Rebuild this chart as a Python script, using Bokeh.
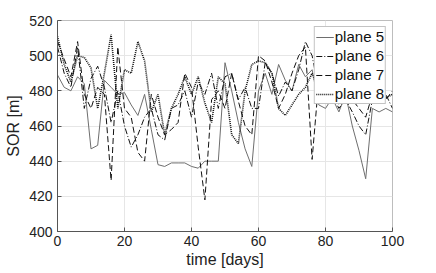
from bokeh.plotting import figure
from bokeh.models import Range1d, FixedTicker, Legend, LegendItem
from bokeh.embed import file_html
from bokeh.resources import INLINE

days = list(range(0, 101, 2))

plane5 = [489, 482, 480, 488, 484, 447, 449, 486, 482, 478, 479, 472, 466, 478, 458, 438,
          437, 439, 439, 439, 437, 436, 440, 440, 440, 496, 480, 462, 447, 437, 480, 490,
          478, 495, 486, 480, 495, 488, 492, 472, 470, 476, 468, 478, 460, 446, 430, 470,
          468, 470, 468]
plane6 = [505, 490, 482, 505, 470, 487, 494, 482, 462, 480, 460, 448, 455, 465, 470, 455,
          452, 470, 472, 480, 465, 485, 478, 490, 470, 488, 490, 475, 482, 470, 470, 496,
          490, 477, 485, 480, 492, 508, 500, 480, 485, 478, 470, 475, 468, 460, 455, 475,
          480, 478, 470]
plane7 = [508, 498, 488, 508, 478, 470, 482, 478, 429, 505, 470, 465, 445, 440, 478, 465,
          455, 458, 462, 490, 482, 448, 418, 475, 480, 470, 490, 474, 460, 455, 500, 497,
          485, 470, 478, 490, 500, 505, 441, 486, 485, 478, 472, 480, 475, 470, 465, 478,
          480, 475, 480]
plane8 = [511, 495, 485, 500, 499, 493, 470, 490, 512, 470, 492, 490, 508, 497, 468, 478,
          455, 470, 478, 488, 478, 488, 473, 462, 488, 484, 455, 450, 480, 495, 497, 496,
          490, 470, 466, 472, 478, 482, 490, 480, 478, 476, 478, 475, 478, 475, 476, 478,
          478, 476, 478]

names = ["plane 5", "plane 6", "plane 7", "plane 8"]
x_ticks = [0, 20, 40, 60, 80, 100]
y_ticks = [400, 420, 440, 460, 480, 500, 520]

FONT = "Liberation Sans"

p = figure(width=432, height=270, output_backend="svg", toolbar_location=None,
           x_range=Range1d(0, 100), y_range=Range1d(400, 520),
           min_border_left=57, min_border_right=40, min_border_top=20, min_border_bottom=4)
p.background_fill_color = "white"
p.border_fill_color = "white"
p.outline_line_color = "#bdbdbd"
p.outline_line_width = 1

for ax in (p.xaxis[0], p.yaxis[0]):
    ax.axis_line_color = "#555555"
    ax.major_tick_line_color = "#555555"
    ax.major_tick_in = 4
    ax.major_tick_out = 0
    ax.minor_tick_line_color = None
    ax.major_label_text_font = FONT
    ax.major_label_text_font_size = "14px"
    ax.major_label_text_color = "#222222"
    ax.axis_label_text_font = FONT
    ax.axis_label_text_font_size = "16px"
    ax.axis_label_text_font_style = "normal"
    ax.axis_label_text_color = "#222222"

p.xaxis.ticker = FixedTicker(ticks=x_ticks)
p.yaxis.ticker = FixedTicker(ticks=y_ticks)
p.xaxis.axis_label = "time [days]"
p.yaxis.axis_label = "SOR [m]"
p.xaxis.major_label_standoff = 4
p.xaxis.axis_label_standoff = 2
p.yaxis.major_label_standoff = 5
p.yaxis.axis_label_standoff = 4

p.xgrid.grid_line_color = "#e6e6e6"
p.ygrid.grid_line_color = "#e6e6e6"

r5 = p.line(days, plane5, line_color="#6e6e6e", line_width=1)
r6 = p.line(days, plane6, line_color="#111111", line_width=1, line_dash="6 2 1 2")
r7 = p.line(days, plane7, line_color="#111111", line_width=1, line_dash="6 3")
r8 = p.line(days, plane8, line_color="#111111", line_width=1.6, line_dash="1 1")

legend = Legend(items=[LegendItem(label=n, renderers=[r]) for n, r in zip(names, [r5, r6, r7, r8])],
                location="top_right")
legend.label_text_font = FONT
legend.label_text_font_size = "15px"
legend.label_text_color = "#111111"
legend.glyph_width = 18
legend.glyph_height = 16
legend.label_standoff = 1
legend.spacing = 2
legend.padding = 1
legend.margin = 6
legend.label_height = 16
legend.border_line_color = "#888888"
legend.background_fill_alpha = 1.0
p.add_layout(legend)

open("out.html", "w").write(file_html(p, INLINE))
